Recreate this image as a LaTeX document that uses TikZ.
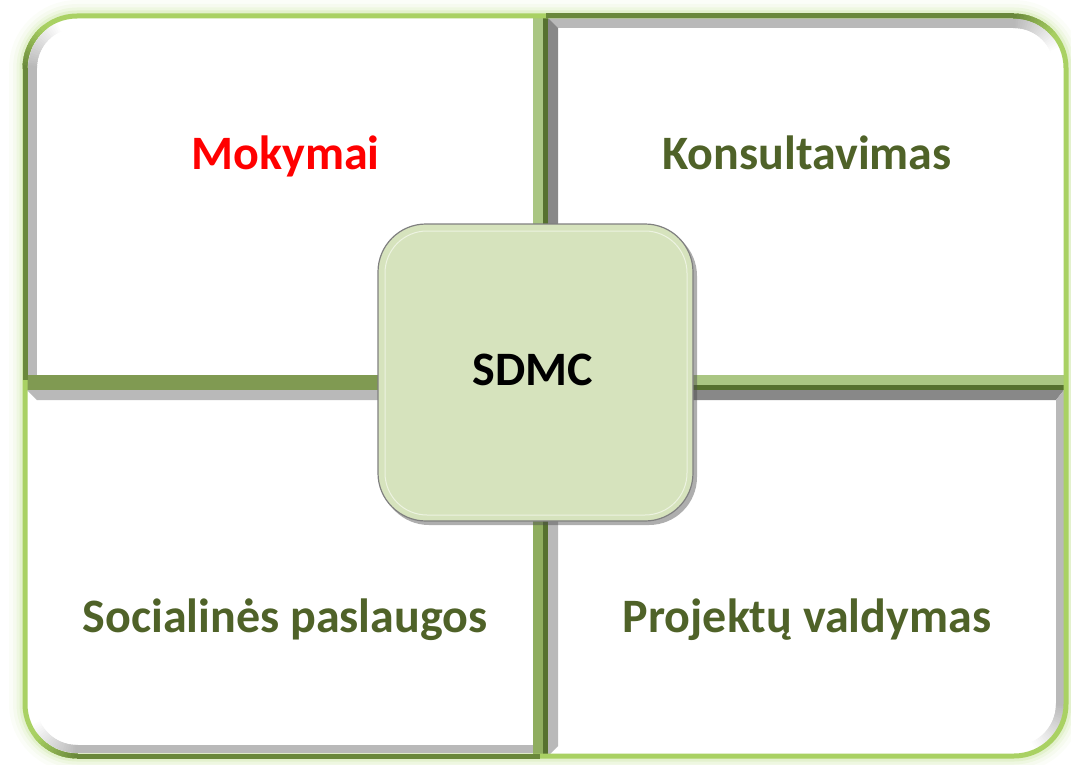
\documentclass[tikz,border=0pt]{standalone}
\usepackage{fontspec}
\setmainfont{Carlito}
\definecolor{lgreen}{HTML}{A9D163}
\definecolor{glowc}{HTML}{B6DB7C}
\definecolor{dgreen}{HTML}{6A883B}
\definecolor{ddgreen}{HTML}{56712F}
\definecolor{bandl}{HTML}{AAC683}
\definecolor{bandb}{HTML}{8FAD5F}
\definecolor{bando}{HTML}{809A52}
\definecolor{bev}{HTML}{B9B9B9}
\definecolor{bevd}{HTML}{888888}
\definecolor{txtg}{HTML}{4F6228}
\definecolor{boxf}{HTML}{D6E3BD}
\begin{document}
\begin{tikzpicture}[x=1pt,y=-1pt,
  lab/.style={font=\fontsize{48}{54}\selectfont\bfseries, text=txtg, anchor=base, inner sep=0pt},
  centerbox/.style={draw=black!50, line width=1.2pt, fill=boxf, rounded corners=48pt,
     minimum width=315pt, minimum height=297pt, inner sep=0pt}]
\useasboundingbox (0,0) rectangle (1071,765);
% outer glow
\foreach \w/\o in {32/0.05,24/0.08,17/0.12,11/0.2}
  \draw[glowc, line width=\w pt, opacity=\o, rounded corners=52pt] (25,16) rectangle (1066,756);
\fill[white, rounded corners=52pt] (25,16) rectangle (1066,756);
% ---- grey bevels ----
% TL left
\fill[bev] (28,68) rectangle (37,375);
\foreach \a in {180,183,...,246} {
  \pgfmathtruncatemacro\p{max(0,100*(1-(\a-180)/66))}
  \draw[bev!\p!white, line width=9pt] ([shift={(\a:44.5)}]77,68) -- ([shift={(\a+4:44.5)}]77,68);
}
% TR top and left
\fill[bev] (548,18) -- (1014,18) -- (1014,28) -- (558,28) -- cycle;
\foreach \a in {270,273,...,336} {
  \pgfmathtruncatemacro\p{max(0,100*(1-(\a-270)/66))}
  \draw[bev!\p!white, line width=10pt] ([shift={(\a-1:45)}]1014,68) -- ([shift={(\a+4:45)}]1014,68);
}
\fill[bevd] (548,18) -- (558,28) -- (558,375) -- (548,375) -- cycle;
% BR top, left, right
\fill[bevd] (548,390) -- (1064,390) -- (1056,400) -- (558,400) -- cycle;
\fill[bev] (548,390) -- (558,400) -- (558,746) -- (548,756) -- cycle;
\fill[bev] (1064,390) -- (1064,704) -- (1056,704) -- (1056,400) -- cycle;
\foreach \a in {0,3,...,66} {
  \pgfmathtruncatemacro\p{max(0,100*(1-\a/66))}
  \draw[bev!\p!white, line width=8pt] ([shift={(\a-1:46)}]1014,704) -- ([shift={(\a+4:46)}]1014,704);
}
% BL top and bottom
\fill[bev] (27,390) -- (533,390) -- (533,400) -- (37,400) -- cycle;
\fill[bev] (77,745) rectangle (533,753);
\foreach \a in {90,93,...,156} {
  \pgfmathtruncatemacro\p{max(0,100*(1-(\a-90)/66))}
  \draw[bev!\p!white, line width=8pt] ([shift={(\a-1:45)}]77,704) -- ([shift={(\a+4:45)}]77,704);
}
% ---- dividers ----
\fill[bandl] (533,16) rectangle (543,383);
\fill[bandb] (533,383) rectangle (543,756);
\fill[ddgreen] (543,16) rectangle (548,756);
\fill[bando] (25,375) rectangle (543,390);
\fill[bandl] (548,375) rectangle (1064,385);
\fill[ddgreen] (548,385) rectangle (1064,390);
% ---- outer line ----
\draw[lgreen, line width=5pt, rounded corners=52pt] (25,16) rectangle (1066,756);
\draw[dgreen, line width=5pt] (25,380) -- (25,68);
\draw[dgreen, line width=5pt] (546,16) -- (1014,16);
\draw[dgreen, line width=5pt] (77,756) -- (540,756);
\foreach \a in {180,184,...,228} {
  \pgfmathtruncatemacro\p{max(0,100*(1-(\a-180)/50))}
  \draw[dgreen!\p!lgreen, line width=5pt] ([shift={(\a-1:52)}]77,68) -- ([shift={(\a+5:52)}]77,68);
}
\foreach \a in {270,274,...,318} {
  \pgfmathtruncatemacro\p{max(0,100*(1-(\a-270)/50))}
  \draw[dgreen!\p!lgreen, line width=5pt] ([shift={(\a-1:52)}]1014,68) -- ([shift={(\a+5:52)}]1014,68);
}
\foreach \a in {90,94,...,138} {
  \pgfmathtruncatemacro\p{max(0,100*(1-(\a-90)/50))}
  \draw[dgreen!\p!lgreen, line width=5pt] ([shift={(\a-1:52)}]77,704) -- ([shift={(\a+5:52)}]77,704);
}
% ---- centre box ----
\fill[black!70, opacity=0.45, rounded corners=48pt] (381,228) rectangle (697,525);
\node[centerbox] (box) at (535.5,372.5) {};
\draw[white!55!boxf, line width=1pt, rounded corners=42pt] (385,231) rectangle (687,515);
% ---- labels ----
\node[lab, text=red] (mok) at (285.5,169) {Mokymai};
\node[lab] (kon) at (807,169) {Konsultavimas};
\node[lab] (soc) at (285,632) {Socialinės paslaugos};
\node[lab] (proj) at (807,632) {Projektų valdymas};
\node[lab, text=black] (sdmc) at (533,385) {SDMC};
\end{tikzpicture}
\end{document}
